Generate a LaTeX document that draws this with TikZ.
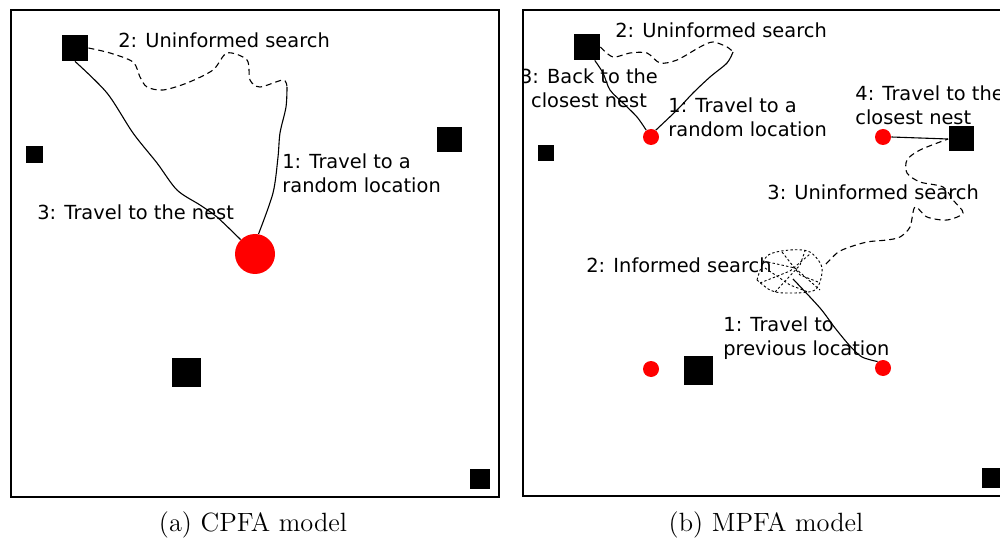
\documentclass[tikz,border=0pt]{standalone}
\usepackage{fontspec}
\newfontfamily\plotfont{DejaVu Sans}

\tikzset{
  frame/.style={line width=1pt},
  nest/.style={fill=black, inner sep=0pt, minimum size=#1*0.5pt},
  site/.style={circle, fill=red, inner sep=0pt, minimum size=#1*0.5pt},
  lbl/.style={font=\plotfont\fontsize{9.7}{12.3}\selectfont, align=left, inner sep=0pt, anchor=base west},
  trail/.style={line width=0.55pt},
  search/.style={trail, dash pattern=on 3pt off 2pt},
  informed/.style={line width=0.45pt, dash pattern=on 1.2pt off 1.1pt},
  caption/.style={font=\fontsize{13.2}{15}\selectfont, inner sep=0pt, anchor=base},
}

\begin{document}
\begin{tikzpicture}[x=0.5pt, y=-0.5pt]
  \clip (0,0) rectangle (1000,539);

  % (a) CPFA
  \draw[frame] (11,10) rectangle (499,497);
  \node[nest=26] (nA1) at (75,48) {};
  \node[nest=17] (nA2) at (34,155) {};
  \node[nest=25] (nA3) at (449,140) {};
  \node[nest=29] (nA4) at (186,372) {};
  \node[nest=20] (nA5) at (480,479) {};
  \node[site=40] (sA) at (255,254) {};
  \coordinate (randA) at (287,87);

  \draw[trail] plot[smooth, tension=0.5] coordinates {(sA.80) (273,193) (278,157) (280,133) (286,107) (randA)};
  \draw[search] plot[smooth, tension=0.5] coordinates {(nA1.east) (110,53) (133,62) (140,77) (147,87) (163,90)
      (187,83) (213,70) (227,53) (247,60) (250,80) (260,87) (283,80) (randA)};
  \draw[trail] plot[smooth, tension=0.5] coordinates {(nA1.south) (107,93) (133,133) (157,163) (177,190)
      (200,205) (217,217) (sA.135)};

  % multi-line labels sit on the baseline of their last line
  \node[lbl] (tA1) at (282,193) {1: Travel to a\\random location};
  \node[lbl] (tA2) at (118,48) {2: Uninformed search};
  \node[lbl] (tA3) at (37,220) {3: Travel to the nest};
  \node[caption] (capA) at (253,531) {(a) CPFA model};

  % (b) MPFA
  \begin{scope}
    \clip (523,10) rectangle (1000,497);
    \node[nest=26] (nB1) at (587,47) {};
    \node[nest=16] (nB2) at (546,153) {};
    \node[nest=25] (nB3) at (961,139) {};
    \node[nest=29] (nB4) at (698,370) {};
    \node[nest=20] (nB5) at (992,478) {};
    \node[site=16] (sB1) at (651,137) {};
    \node[site=16] (sB2) at (883,137) {};
    \node[site=16] (sB3) at (651,369) {};
    \node[site=16] (sB4) at (883,368) {};
    \coordinate (randB) at (733,52);
    \coordinate (infB) at (793,279);
    \coordinate (infTop) at (826,264);

    \draw[trail] plot[smooth, tension=0.5] coordinates {(sB1.55) (677,110) (693,93) (710,77) (727,63) (randB)};
    \draw[search] plot[smooth, tension=0.5] coordinates {(nB1.east) (613,57) (630,53) (647,53) (660,63) (677,60)
        (700,47) (713,42) (727,47) (randB)};
    \draw[trail] plot[smooth, tension=0.5] coordinates {(nB1.300) (603,73) (610,90) (623,103) (637,117) (sB1.125)};

    \draw[trail] plot[smooth, tension=0.5] coordinates {(sB4.130) (862,357) (850,346) (835,328) (820,308) (infB)};
    \draw[informed] plot[smooth, tension=0.5] coordinates {(757,280) (767,256) (790,250) (810,252) (822,268)
        (815,290) (785,293) (770,290) (757,280)};
    \draw[informed] (768,262) -- (795,268) -- (820,290);
    \draw[informed] (760,283) -- (790,271) -- (810,254);
    \draw[informed] (775,292) -- (800,265) -- (805,251);
    \draw[informed] (765,268) -- (790,285) -- (808,292);
    \draw[informed] (782,252) -- (800,275) -- (818,282);
    \draw[search] plot[smooth, tension=0.5] coordinates {(infTop) (837,253) (847,248) (867,242) (887,240) (900,237)
        (910,227) (915,207) (927,217) (947,220) (963,213) (953,200) (943,187) (920,182) (907,173) (907,160)
        (920,150) (nB3.west)};
    \draw[trail] (sB2.east) -- (nB3.west);

    \node[lbl] (tB1) at (668,137) {1: Travel to a\\random location};
    \node[lbl] (tB2) at (615,38) {2: Uninformed search};
    \node[lbl, align=center, anchor=base] (tB3) at (589,108) {3: Back to the\\closest nest};
    \node[lbl] (tB4) at (855,125) {4: Travel to the\\closest nest};
    \node[lbl] (tB5) at (767,200) {3: Uninformed search};
    \node[lbl] (tB6) at (586,273) {2: Informed search};
    \node[lbl] (tB7) at (723,356) {1: Travel to\\previous location};
  \end{scope}
  \draw[frame] (523,10) rectangle (1012,496);
  \node[caption] (capB) at (766,531) {(b) MPFA model};
\end{tikzpicture}
\end{document}
